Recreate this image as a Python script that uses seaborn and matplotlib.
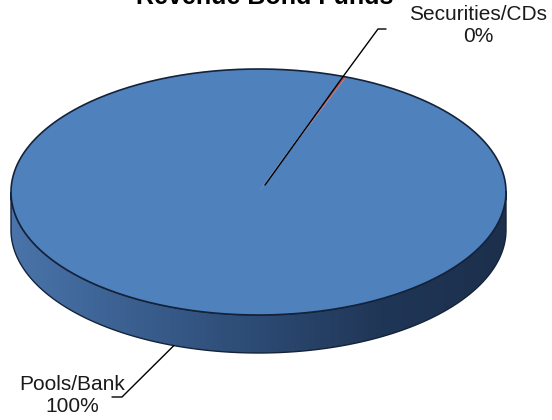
import numpy as np
import matplotlib
matplotlib.use("Agg")
import matplotlib.pyplot as plt
import seaborn as sns
from matplotlib.patches import Polygon
from matplotlib.colors import LinearSegmentedColormap

sns.set_theme(style="white")
plt.rcParams['font.family'] = ['Liberation Sans', 'DejaVu Sans']

categories = ["Securities/CDs", "Pools/Bank"]
values = [0.2, 99.8]
pct_labels = ["0%", "100%"]
title = "Revenue Bond Funds"

fig = plt.figure(figsize=(5.52, 4.20), dpi=100)
ax = fig.add_axes([0, 0, 1, 1])
ax.set_xlim(0, 552)
ax.set_ylim(420, 0)
ax.axis("off")

cx, cy, a, b, depth = 258.5, 192, 247.5, 123, 38
start = 70.0

def ell(t, dy=0):
    t = np.radians(t)
    return cx + a * np.cos(t), cy - b * np.sin(t) + dy

# side wall (front half)
ts = np.linspace(180, 360, 200)
xt, yt = ell(ts)
xb, yb = ell(ts[::-1], depth)
side = np.column_stack([np.r_[xt, xb], np.r_[yt, yb]])
grad = LinearSegmentedColormap.from_list("g", ["#4a74aa", "#3a5f8f", "#2c4a73", "#203656", "#1c304d"])
im = ax.imshow(np.linspace(0, 1, 256)[None, :], cmap=grad, aspect="auto",
               extent=[cx - a, cx + a, cy + b + depth, cy - 5], zorder=1)
sp = Polygon(side, closed=True, facecolor="none", edgecolor="#15233a", lw=1.0, zorder=2)
ax.add_patch(sp)
im.set_clip_path(sp)

# top wedges
colors = ["#c0504d", "#4f81bd"]
total = sum(values)
ang = start
for v, c in zip(values, colors):
    sweep = 360 * v / total
    tt = np.linspace(ang - sweep, ang, max(3, int(sweep * 2)))
    x, y = ell(tt)
    pts = np.column_stack([np.r_[cx, x], np.r_[cy, y]])
    ax.add_patch(Polygon(pts, closed=True, facecolor=c, edgecolor="none", zorder=3))
    ang -= sweep
tt = np.linspace(0, 360, 400)
x, y = ell(tt)
ax.plot(x, y, color="#15233a", lw=1.2, zorder=4)

# leader lines
ex, ey = ell(start)
ax.plot([265, ex, 378, 386], [185, ey, 29, 29], color="black", lw=1.0, zorder=5)
ax.text(478, 26, categories[0] + "\n" + pct_labels[0], ha="center", va="center",
        fontsize=15, color="#1a1a1a")
lx, ly = ell(250.0, depth)
ax.plot([lx, 122, 112], [ly, 397, 397], color="black", lw=1.0, zorder=5)
ax.text(72, 395, categories[1] + "\n" + pct_labels[1], ha="center", va="center",
        fontsize=15, color="#1a1a1a")

ax.text(265, 4, title, ha="center", va="baseline", fontsize=18, fontweight="bold", color="black")

fig.savefig("out.png", dpi=100)
